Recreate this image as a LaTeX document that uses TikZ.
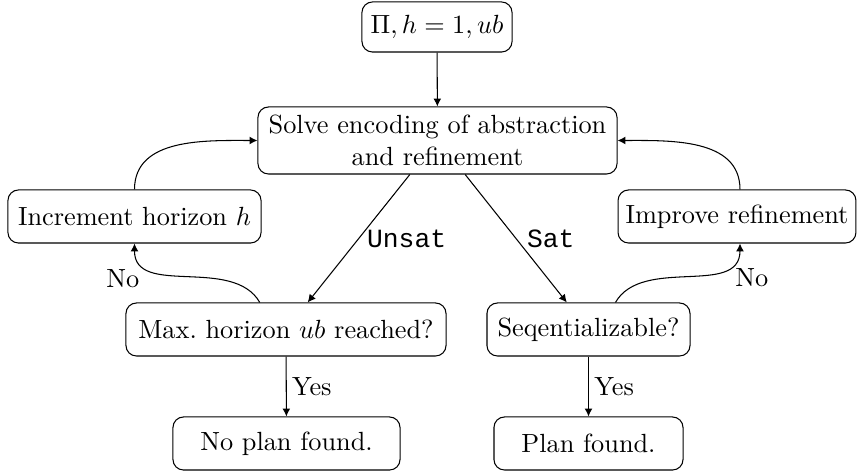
\documentclass[tikz,border=0pt]{standalone}
\usepackage{fontspec}
\usetikzlibrary{arrows.meta}
\newfontfamily\courier{Liberation Mono}
\begin{document}
\begin{tikzpicture}[x=0.01337cm, y=-0.01337cm,
  box/.style={draw, rounded corners=4pt, inner sep=2pt, align=center},
  flow/.style={-{Latex[length=3pt,width=3pt]}},
  lbl/.style={inner sep=2pt},
  ttl/.style={lbl, font=\courier}]
  \useasboundingbox (0,0) rectangle (857,473);

  % process and decision boxes
  \node[box, minimum width=2.006cm, minimum height=0.669cm] (start) at (437,27) {$\Pi, h=1, ub$};
  \node[box, minimum width=4.80cm, minimum height=0.896cm] (solve) at (437.5,140.5)
    {Solve encoding of abstraction\\ and refinement};
  \node[box, minimum width=3.383cm, minimum height=0.709cm] (inc) at (134.5,216.5) {Increment horizon $h$};
  \node[box, minimum width=3.18cm, minimum height=0.709cm] (imp) at (737,216.5) {Improve refinement};
  \node[box, minimum width=4.278cm, minimum height=0.709cm] (max) at (286,329.5) {Max.\ horizon $ub$ reached?};
  \node[box, minimum width=2.714cm, minimum height=0.709cm] (seq) at (588.5,329.5) {Seqentializable?};
  \node[box, minimum width=3.035cm, minimum height=0.709cm] (noplan) at (286.5,443.5) {No plan found.};
  \node[box, minimum width=2.527cm, minimum height=0.709cm] (plan) at (588.5,443.5) {Plan found.};

  % connectors
  \draw[flow] (start) -- (solve);
  \draw[flow] ([xshift=-0.37cm]solve.south) -- node[ttl, right, pos=0.5, xshift=1pt] {Unsat} ([xshift=0.29cm]max.north);
  \draw[flow] ([xshift=0.37cm]solve.south) -- node[ttl, right, pos=0.5, xshift=2pt] {Sat} ([xshift=-0.29cm]seq.north);
  \draw[flow] ([xshift=-0.35cm]max.north) to[out=120, in=-90] node[lbl, pos=0.8, anchor=north east, inner sep=1pt, xshift=-1pt] {No} (inc.south);
  \draw[flow] (inc.north) to[out=90, in=180] (solve.west);
  \draw[flow] ([xshift=0.36cm]seq.north) to[out=60, in=-90] node[lbl, pos=0.8, anchor=north west, inner sep=1pt, xshift=1pt] {No} ([xshift=0.04cm]imp.south);
  \draw[flow] ([xshift=0.04cm]imp.north) to[out=90, in=0] (solve.east);
  \draw[flow] (max) -- node[lbl, right] {Yes} (noplan);
  \draw[flow] (seq) -- node[lbl, right] {Yes} (plan);
\end{tikzpicture}
\end{document}
